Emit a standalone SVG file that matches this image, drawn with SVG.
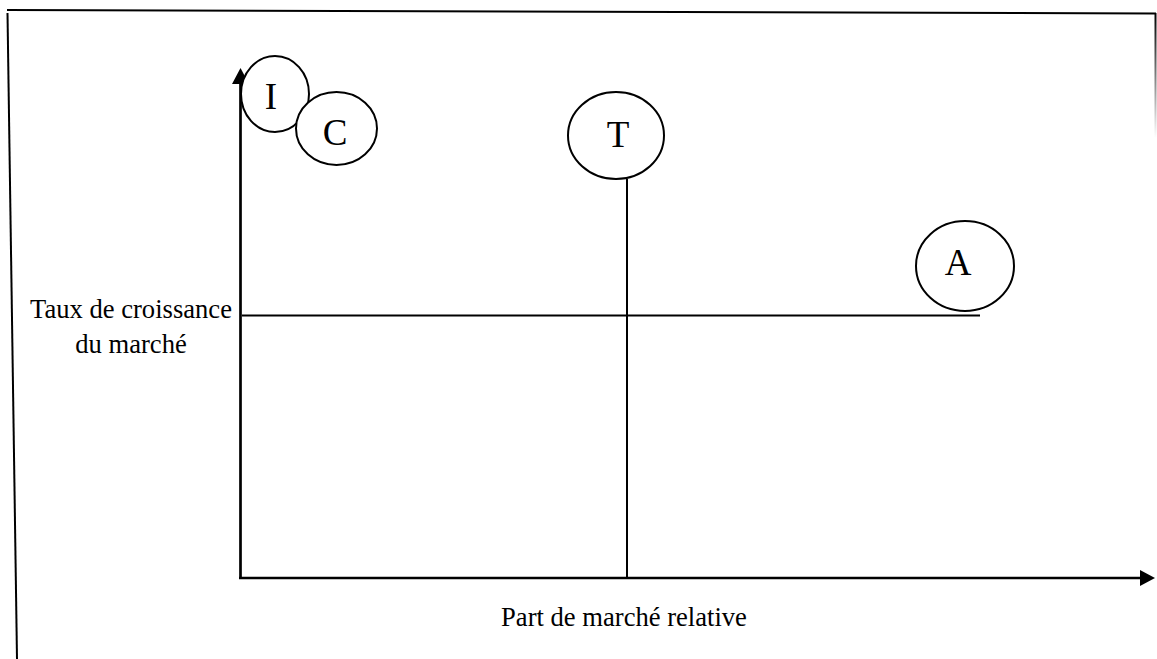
<svg xmlns="http://www.w3.org/2000/svg" width="1157" height="659" viewBox="0 0 1157 659">
  <style>
    .frame { stroke: #000; stroke-width: 2; fill: none; }
    .axis { stroke: #000; stroke-width: 2.7; fill: none; }
    .guide { stroke: #000; stroke-width: 2; fill: none; }
    .bubble { stroke: #000; stroke-width: 2; fill: #fff; }
    .letter { font-family: "Liberation Serif", "Times New Roman", serif; font-size: 37px; fill: #000; text-anchor: middle; }
    .label { font-family: "Liberation Serif", "Times New Roman", serif; font-size: 26.6px; fill: #000; text-anchor: middle; }
  </style>
  <defs>
    <linearGradient id="fade" x1="0" y1="13" x2="0" y2="138" gradientUnits="userSpaceOnUse">
      <stop offset="0" stop-color="#000"/>
      <stop offset="1" stop-color="#fff"/>
    </linearGradient>
  </defs>

  <rect width="1157" height="659" fill="#fff"/>

  <!-- outer frame -->
  <g id="frame">
    <line class="frame" x1="7" y1="10" x2="1156" y2="13.5"/>
    <line class="frame" x1="7.5" y1="13" x2="17" y2="659"/>
    <line x1="1155.5" y1="13" x2="1155.5" y2="138" stroke="url(#fade)" stroke-width="2"/>
  </g>

  <!-- axes and quadrant dividers -->
  <g id="connectors">
    <line class="axis" x1="240.5" y1="82" x2="240.5" y2="579"/>
    <polygon points="240.5,68 232,84 249,84" fill="#000"/>
    <line class="axis" x1="239" y1="578" x2="1142" y2="578"/>
    <polygon points="1155,578 1140,570 1140,586" fill="#000"/>
    <line class="guide" x1="242" y1="315.5" x2="980" y2="315.5"/>
    <line class="guide" x1="627" y1="179" x2="627" y2="578"/>
  </g>

  <!-- axis titles -->
  <g id="y-label">
    <text class="label" x="131" y="318">Taux de croissance</text>
    <text class="label" x="131" y="353">du marché</text>
  </g>
  <g id="x-label">
    <text class="label" x="624" y="626">Part de marché relative</text>
  </g>

  <!-- positioned units -->
  <g id="node-I">
    <ellipse class="bubble" cx="275" cy="94" rx="34" ry="38"/>
    <text class="letter" x="271" y="109">I</text>
  </g>
  <g id="node-C">
    <ellipse class="bubble" cx="336.5" cy="128.5" rx="40.5" ry="36.5"/>
    <text class="letter" x="335" y="145">C</text>
  </g>
  <g id="node-T">
    <ellipse class="bubble" cx="616" cy="135.5" rx="48" ry="43.5"/>
    <text class="letter" x="618" y="147">T</text>
  </g>
  <g id="node-A">
    <ellipse class="bubble" cx="965" cy="266" rx="49" ry="45"/>
    <text class="letter" x="958" y="275">A</text>
  </g>
</svg>
